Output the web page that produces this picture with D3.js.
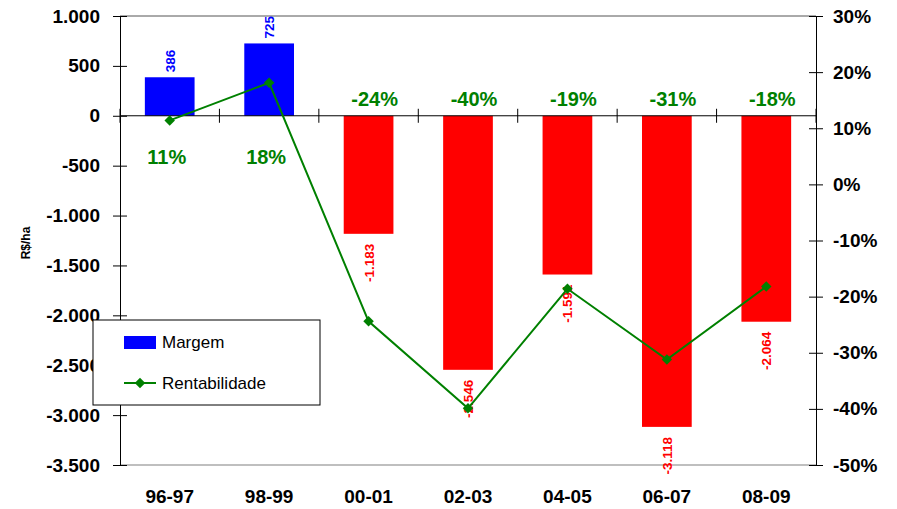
<!DOCTYPE html>
<html>
<head>
<meta charset="utf-8">
<script src="https://cdn.jsdelivr.net/npm/d3@7"></script>
<style>
  body { margin: 0; background: #fff; }
  svg { font-family: "Liberation Sans", Arial, sans-serif; }
</style>
</head>
<body>
<svg id="chart" width="897" height="509"></svg>
<script>
// data
var safras = ["96-97", "98-99", "00-01", "02-03", "04-05", "06-07", "08-09"];
var margem = [386, 725, -1183, -2546, -1591, -3118, -2064];
var rentabilidade = [0.114, 0.181, -0.244, -0.399, -0.186, -0.312, -0.182];
var leftTicks = [1000, 500, 0, -500, -1000, -1500, -2000, -2500, -3000, -3500];
var rightTicks = [0.3, 0.2, 0.1, 0, -0.1, -0.2, -0.3, -0.4, -0.5];

var plotLeft = 120, plotRight = 816, plotTop = 16, plotBottom = 465;

var ptBR = d3.formatLocale({ decimal: ",", thousands: ".", grouping: [3], currency: ["R$", ""], minus: "-" });
var fmtNum = ptBR.format(",.0f");
var fmtPct = function (d) { return Math.round(d * 100) + "%"; };

var svg = d3.select("#chart");

var x = d3.scaleBand()
    .domain(safras)
    .range([plotLeft, plotRight])
    .paddingInner(0.5)
    .paddingOuter(0.25);
var y = d3.scaleLinear().domain([-3500, 1000]).range([plotBottom, plotTop]);
var y2 = d3.scaleLinear().domain([-0.5, 0.3]).range([plotBottom, plotTop]);

var step = x.step();
var center = function (d) { return x(d) + x.bandwidth() / 2; };

//// frame lines (top / bottom)
svg.append("line")
    .attr("x1", plotLeft).attr("x2", plotRight).attr("y1", y(1000)).attr("y2", y(1000))
    .attr("stroke", "#555").attr("stroke-width", 1);
svg.append("line")
    .attr("x1", plotLeft).attr("x2", plotRight).attr("y1", y(-3500)).attr("y2", y(-3500))
    .attr("stroke", "#aaa").attr("stroke-width", 1.5);

//// bars
svg.append("g").selectAll("rect")
    .data(margem)
  .enter().append("rect")
    .attr("x", function (d, i) { return x(safras[i]); })
    .attr("width", x.bandwidth())
    .attr("y", function (d) { return d >= 0 ? y(d) : y(0); })
    .attr("height", function (d) { return Math.abs(y(d) - y(0)); })
    .attr("fill", function (d) { return d >= 0 ? "#0000ff" : "#ff0000"; });

//// zero line with category ticks
svg.append("line")
    .attr("x1", plotLeft).attr("x2", plotRight).attr("y1", y(0)).attr("y2", y(0))
    .attr("stroke", "#000").attr("stroke-width", 1);
var bounds = safras.map(function (d) { return center(d) - step / 2; }).concat([center(safras[safras.length - 1]) + step / 2]);
svg.append("g").selectAll("line")
    .data(bounds)
  .enter().append("line")
    .attr("x1", function (d) { return d; }).attr("x2", function (d) { return d; })
    .attr("y1", y(0) - 7).attr("y2", y(0) + 7)
    .attr("stroke", "#000").attr("stroke-width", 1);

//// left axis
var yAxis = d3.axisLeft(y).tickValues(leftTicks).tickFormat(fmtNum).tickSizeOuter(0).tickPadding(14);
var gL = svg.append("g").attr("transform", "translate(" + plotLeft + ",0)").call(yAxis);
gL.select(".domain").attr("stroke", "#000");
gL.selectAll(".tick line").attr("x1", 7).attr("x2", -7).attr("stroke", "#000");
gL.selectAll(".tick text")
    .attr("font-size", "19px").attr("font-weight", "bold").attr("fill", "#000")
    .attr("font-family", "Liberation Sans, Arial, sans-serif");

//// right axis
var yAxis2 = d3.axisRight(y2).tickValues(rightTicks).tickFormat(fmtPct).tickSizeOuter(0).tickPadding(11);
var gR = svg.append("g").attr("transform", "translate(" + plotRight + ",0)").call(yAxis2);
gR.select(".domain").attr("stroke", "#000");
gR.selectAll(".tick line").attr("x1", -7).attr("x2", 7).attr("stroke", "#000");
gR.selectAll(".tick text")
    .attr("font-size", "19px").attr("font-weight", "bold").attr("fill", "#000")
    .attr("font-family", "Liberation Sans, Arial, sans-serif");

//// category labels
svg.append("g").selectAll("text")
    .data(safras)
  .enter().append("text")
    .attr("x", center)
    .attr("y", 503)
    .attr("text-anchor", "middle")
    .attr("font-size", "19px").attr("font-weight", "bold")
    .text(function (d) { return d; });

//// y title
svg.append("text")
    .attr("transform", "translate(30," + 243 + ") rotate(-90)")
    .attr("text-anchor", "middle")
    .attr("font-size", "12px").attr("font-weight", "bold")
    .text("R$/ha");

//// bar value labels (rotated)
svg.append("g").selectAll("text")
    .data(margem)
  .enter().append("text")
    .attr("transform", function (d, i) {
        var yy = d >= 0 ? y(d) - 5 : y(d) + 10;
        return "translate(" + (center(safras[i]) + 5) + "," + yy + ") rotate(-90)";
    })
    .attr("text-anchor", function (d) { return d >= 0 ? "start" : "end"; })
    .attr("font-size", "13.5px").attr("font-weight", "bold")
    .attr("fill", function (d) { return d >= 0 ? "#0000ff" : "#ff0000"; })
    .text(function (d) { return fmtNum(d); });

//// rentabilidade line
var line = d3.line()
    .x(function (d, i) { return center(safras[i]); })
    .y(function (d) { return y2(d); });
svg.append("path")
    .datum(rentabilidade)
    .attr("d", line)
    .attr("fill", "none")
    .attr("stroke", "#008000")
    .attr("stroke-width", 2);
var diamond = d3.symbol().type(d3.symbolDiamond2).size(70);
svg.append("g").selectAll("path")
    .data(rentabilidade)
  .enter().append("path")
    .attr("d", diamond)
    .attr("transform", function (d, i) { return "translate(" + center(safras[i]) + "," + y2(d) + ")"; })
    .attr("fill", "#008000");

//// percentage labels
svg.append("g").selectAll("text")
    .data(rentabilidade)
  .enter().append("text")
    .attr("x", function (d, i) { return center(safras[i]) + (d >= 0 ? -3 : 6); })
    .attr("y", function (d) { return d >= 0 ? y(0) + 48 : y(0) - 10; })
    .attr("text-anchor", "middle")
    .attr("font-size", "20px").attr("font-weight", "bold")
    .attr("fill", "#008000")
    .text(fmtPct);

//// legend
var lg = svg.append("g").attr("transform", "translate(93,320)");
lg.append("rect")
    .attr("width", 227).attr("height", 85)
    .attr("fill", "#fff").attr("stroke", "#000").attr("stroke-width", 1);
lg.append("rect")
    .attr("x", 31).attr("y", 16).attr("width", 32).attr("height", 13)
    .attr("fill", "#0000ff");
lg.append("text")
    .attr("x", 69).attr("y", 28)
    .attr("font-size", "17px")
    .text("Margem");
lg.append("line")
    .attr("x1", 31).attr("x2", 63).attr("y1", 63).attr("y2", 63)
    .attr("stroke", "#008000").attr("stroke-width", 2);
lg.append("path")
    .attr("d", diamond)
    .attr("transform", "translate(47,63)")
    .attr("fill", "#008000");
lg.append("text")
    .attr("x", 69).attr("y", 69)
    .attr("font-size", "17px")
    .text("Rentabilidade");
</script>
</body>
</html>
